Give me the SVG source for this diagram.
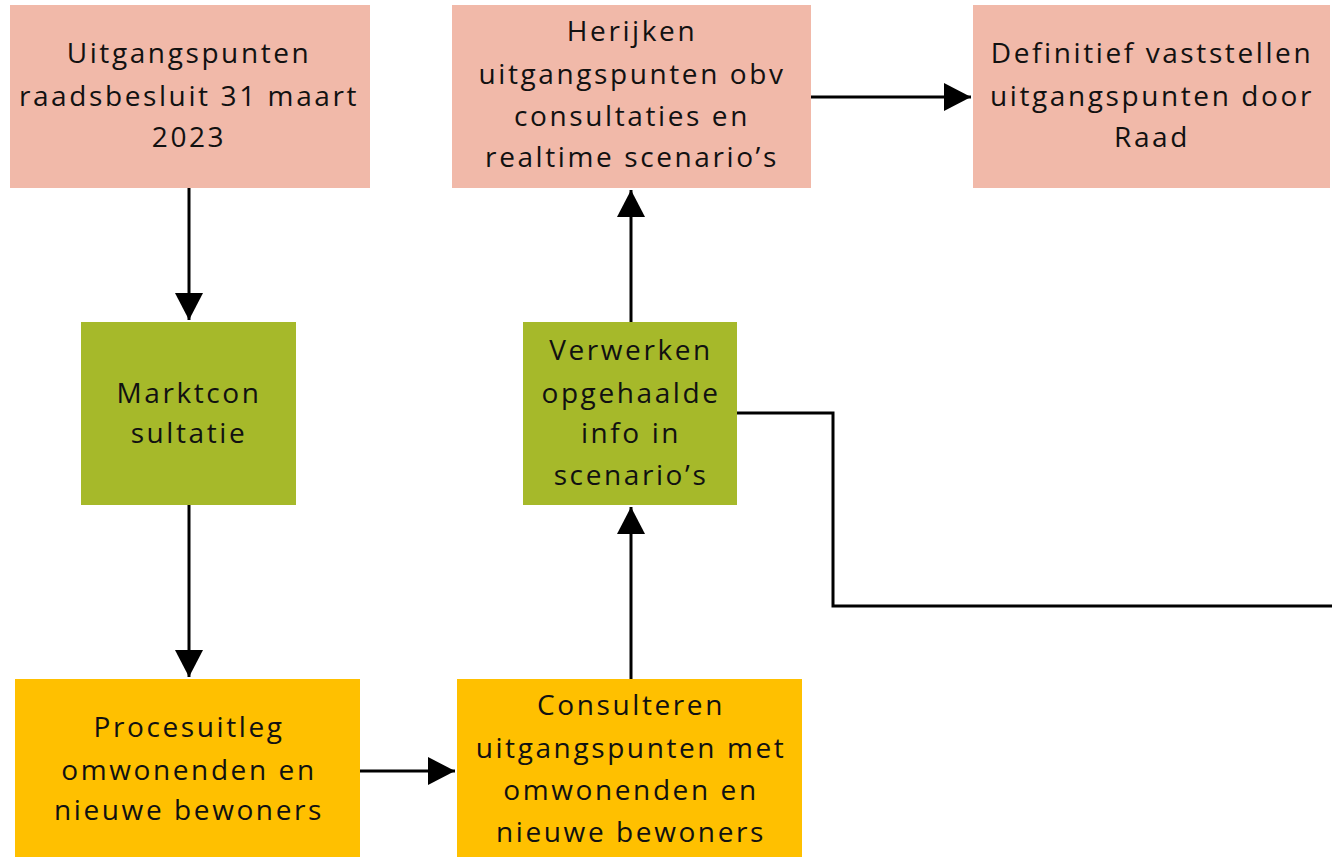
<svg xmlns="http://www.w3.org/2000/svg" width="1332" height="858" viewBox="0 0 1332 858">
<style>
.t{font-family:"Open Sans","Noto Sans",sans-serif;font-size:28px;letter-spacing:2.6px;fill:#111;text-anchor:middle}
.pink{fill:#F1B9A9}
.green{fill:#A6B92A}
.yel{fill:#FFC000}
.c{stroke:#000;stroke-width:3;fill:none}
</style>
<defs>
<marker id="a" markerWidth="27" markerHeight="28" refX="27" refY="14" orient="auto" markerUnits="userSpaceOnUse">
<path d="M0,0 L27,14 L0,28 Z" fill="#000"/>
</marker>
</defs>
<rect width="1332" height="858" fill="#fff"/>
<g id="connectors">
<path class="c" d="M189,188 V320" marker-end="url(#a)"/>
<path class="c" d="M189,505 V677" marker-end="url(#a)"/>
<path class="c" d="M360,771 H455" marker-end="url(#a)"/>
<path class="c" d="M631,679 V507" marker-end="url(#a)"/>
<path class="c" d="M631,322 V190" marker-end="url(#a)"/>
<path class="c" d="M811,97 H971" marker-end="url(#a)"/>
<path class="c" d="M737,413 H833 V606 H1332"/>
</g>
<g id="n1"><rect class="pink" x="10" y="5" width="360" height="183"/>
<text class="t" x="189" y="63">Uitgangspunten</text><text class="t" x="189" y="106">raadsbesluit 31 maart</text><text class="t" x="189" y="147">2023</text></g>
<g id="n2"><rect class="pink" x="452" y="5" width="359" height="183"/>
<text class="t" x="632" y="41">Herijken</text><text class="t" x="632" y="84">uitgangspunten obv</text><text class="t" x="632" y="126">consultaties en</text><text class="t" x="632" y="167">realtime scenario’s</text></g>
<g id="n3"><rect class="pink" x="973" y="5" width="357" height="183"/>
<text class="t" x="1152" y="63">Definitief vaststellen</text><text class="t" x="1152" y="106">uitgangspunten door</text><text class="t" x="1152" y="147">Raad</text></g>
<g id="n4"><rect class="green" x="81" y="322" width="215" height="183"/>
<text class="t" x="189" y="403">Marktcon</text><text class="t" x="189" y="443">sultatie</text></g>
<g id="n5"><rect class="green" x="523" y="322" width="214" height="183"/>
<text class="t" x="631" y="360">Verwerken</text><text class="t" x="631" y="403">opgehaalde</text><text class="t" x="631" y="443">info in</text><text class="t" x="631" y="485">scenario’s</text></g>
<g id="n6"><rect class="yel" x="15" y="679" width="345" height="178"/>
<text class="t" x="189" y="737">Procesuitleg</text><text class="t" x="189" y="780">omwonenden en</text><text class="t" x="189" y="820">nieuwe bewoners</text></g>
<g id="n7"><rect class="yel" x="457" y="679" width="345" height="178"/>
<text class="t" x="631" y="715">Consulteren</text><text class="t" x="631" y="758">uitgangspunten met</text><text class="t" x="631" y="800">omwonenden en</text><text class="t" x="631" y="842">nieuwe bewoners</text></g>
</svg>
